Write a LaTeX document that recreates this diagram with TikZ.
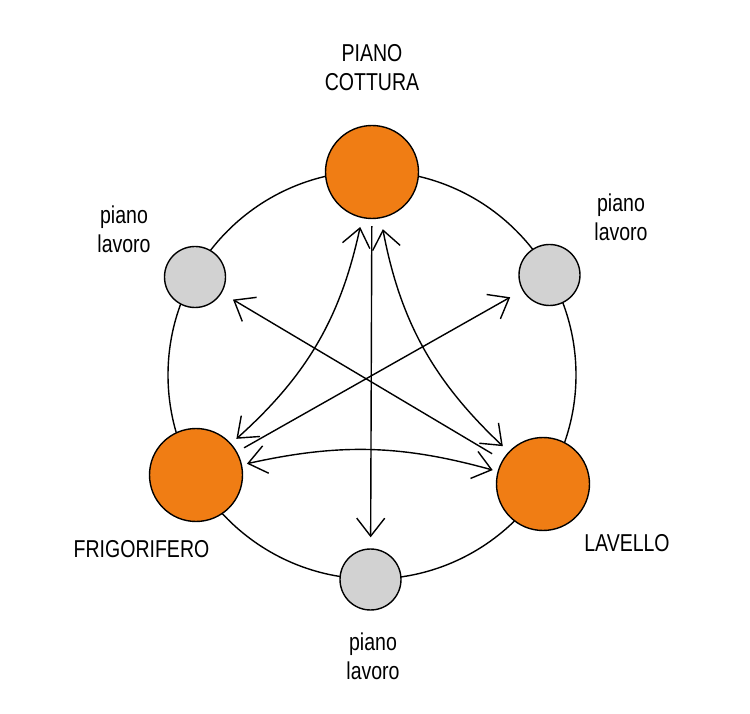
\documentclass[tikz,border=0pt]{standalone}
\usepackage{fontspec}
\setmainfont{Liberation Sans}[FakeStretch=0.8]
\usepackage{tikz}
\usetikzlibrary{arrows.meta}
\definecolor{arancio}{RGB}{240,125,20}
\definecolor{grigio}{RGB}{210,210,210}

\begin{document}
\begin{tikzpicture}[x=1pt,y=1pt]
            \useasboundingbox (0,0) rectangle (750,713);
            \coordinate (O) at (372,338);
            \draw[line width=1.4pt] (O) circle (204pt);

            \begin{scope}[every node/.style={circle,draw,line width=1.4pt,inner sep=0pt}]
                \node[fill=arancio,minimum size=93pt] (C) at (372,541) {};
                \node[fill=arancio,minimum size=93pt] (F) at (196,238) {};
                \node[fill=arancio,minimum size=93pt] (L) at (543,229) {};
                \node[fill=grigio,minimum size=61pt] (P1) at (195,436) {};
                \node[fill=grigio,minimum size=61pt] (P2) at (549.5,438) {};
                \node[fill=grigio,minimum size=61pt] (P3) at (370.5,133.5) {};
            \end{scope}

            \begin{scope}[every node/.style={font=\fontsize{24.4}{29}\selectfont,align=center,inner sep=0pt}]
                \node[anchor=north] (tC) at (372,669) {PIANO\\COTTURA};
                \node[anchor=north] (t1) at (124,507) {piano\\lavoro};
                \node[anchor=north] (t2) at (621,519) {piano\\lavoro};
                \node[anchor=north] (t3) at (373,80) {piano\\lavoro};
                \node[anchor=base] (tF) at (141.5,156) {FRIGORIFERO};
                \node[anchor=base] (tL) at (627,161) {LAVELLO};
            \end{scope}

            \begin{scope}[>={Straight Barb[length=18pt,width=28pt]},
                          every edge/.style={draw=black, line width=1.4pt}]
                \path[<->] (C) edge[bend left=18, shorten <=9pt, shorten >=7pt] (F);
                \path[<->] (C) edge[bend right=18, shorten <=11pt, shorten >=8pt] (L);
                \path[<->] (F) edge[bend left=14, shorten <=5pt, shorten >=5pt] (L);
                \path[->] (C) edge[shorten <=7pt, shorten >=11pt] (P3);
                \path[->] (L) edge[shorten <=12pt, shorten >=13pt] (P1);
                \path[->] (F) edge[shorten <=8pt, shorten >=14pt] (P2);
            \end{scope}

            \end{tikzpicture}
\end{document}
